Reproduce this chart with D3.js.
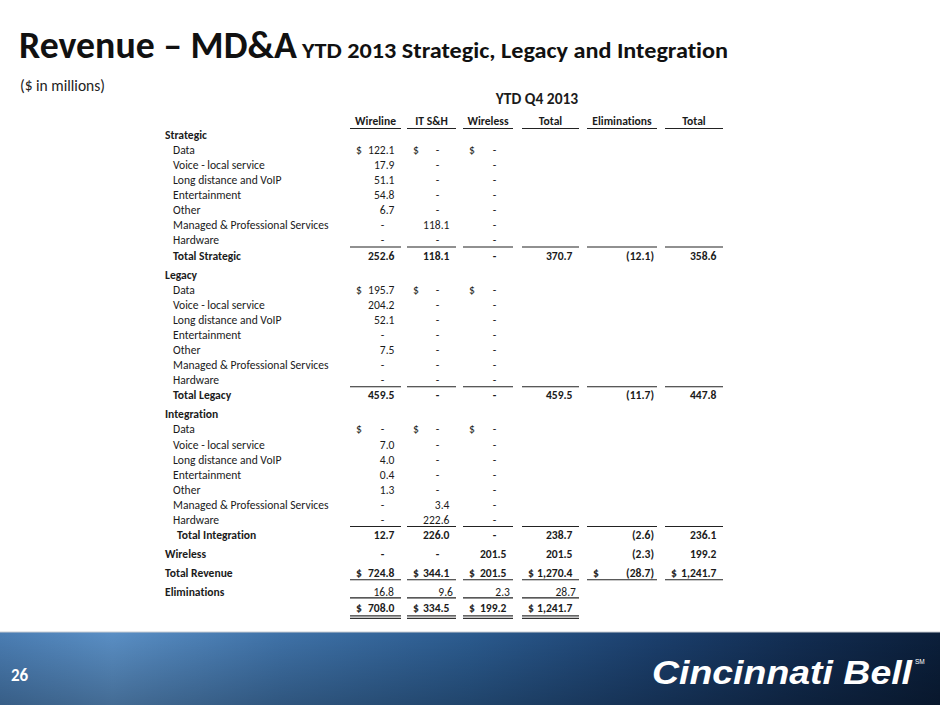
<!DOCTYPE html>
<html>
<head>
<meta charset="utf-8">
<script src="https://cdn.jsdelivr.net/npm/d3@7"></script>
<style>
  body { margin: 0; background: #fff; }
  svg { display: block; }
  text { font-variant-ligatures: none; font-feature-settings: "liga" 0; }
</style>
</head>
<body>
<svg id="chart"></svg>
<script>
// column headers and row labels
const columns = ["Wireline", "IT S&H", "Wireless", "Total", "Eliminations", "Total"];
const itemLabels = ["Data", "Voice - local service", "Long distance and VoIP", "Entertainment",
  "Other", "Managed & Professional Services", "Hardware"];

// line items: Wireline / IT S&H / Wireless
const strategicWireline = [122.1, 17.9, 51.1, 54.8, 6.7, 0, 0];
const strategicITSH = [0, 0, 0, 0, 0, 118.1, 0];
const strategicWireless = [0, 0, 0, 0, 0, 0, 0];
const legacyWireline = [195.7, 204.2, 52.1, 0, 7.5, 0, 0];
const legacyITSH = [0, 0, 0, 0, 0, 0, 0];
const legacyWireless = [0, 0, 0, 0, 0, 0, 0];
const integrationWireline = [0, 7.0, 4.0, 0.4, 1.3, 0, 0];
const integrationITSH = [0, 0, 0, 0, 0, 3.4, 222.6];
const integrationWireless = [0, 0, 0, 0, 0, 0, 0];

// total rows, one value per column
const strategicTotals = [252.6, 118.1, 0, 370.7, -12.1, 358.6];
const legacyTotals = [459.5, 0, 0, 459.5, -11.7, 447.8];
const integrationTotals = [12.7, 226.0, 0, 238.7, -2.6, 236.1];
const wirelessTotals = [0, 0, 201.5, 201.5, -2.3, 199.2];
const totalRevenue = [724.8, 344.1, 201.5, 1270.4, -28.7, 1241.7];
const eliminations = [16.8, 9.6, 2.3, 28.7];
const netRevenue = [708.0, 334.5, 199.2, 1241.7];

const W = 940, H = 705;
const font = "Carlito, Calibri, Lato, sans-serif";
const ink = "#1b1b1b";
const fs = 11.6;

const svg = d3.select("#chart").attr("width", W).attr("height", H);

// ---- rows: a slot scale, section breaks take a little more room
const rows = [];
let slot = 0;
function addRow(r, gap) { slot += gap; r.slot = slot; rows.push(r); }

const sections = [
  { name: "Strategic", w: strategicWireline, it: strategicITSH, wl: strategicWireless, tot: strategicTotals, totLabel: "Total Strategic", indent: 8 },
  { name: "Legacy", w: legacyWireline, it: legacyITSH, wl: legacyWireless, tot: legacyTotals, totLabel: "Total Legacy", indent: 8 },
  { name: "Integration", w: integrationWireline, it: integrationITSH, wl: integrationWireless, tot: integrationTotals, totLabel: "Total Integration", indent: 12 }
];
sections.forEach((s, si) => {
  addRow({ label: s.name, bold: true, indent: 0, values: [] }, si === 0 ? 0 : 1.27);
  itemLabels.forEach((lab, i) => {
    addRow({ label: lab, bold: false, indent: 8, values: [s.w[i], s.it[i], s.wl[i]], dollar: i === 0 }, 1);
  });
  addRow({ label: s.totLabel, bold: true, indent: s.indent, values: s.tot, lineAbove: true }, 1);
});
addRow({ label: "Wireless", bold: true, indent: 0, values: wirelessTotals }, 1.27);
addRow({ label: "Total Revenue", bold: true, indent: 0, values: totalRevenue, dollar: true, lineBelow: 6.5 }, 1.27);
addRow({ label: "Eliminations", bold: true, valueBold: false, indent: 0, values: eliminations, lineBelow: 5.5, elim: true }, 1.27);
addRow({ label: "", bold: true, indent: 0, values: netRevenue, dollar: true, doubleBelow: true }, 1.06);

const y = d3.scaleLinear().domain([0, 1]).range([135, 150.07]);

// column extents (left edge, right edge of the underline)
const colLeft = [350, 407, 463, 522, 587, 665];
const colRight = [401, 456, 513, 579, 657, 723];
const labelX = 165;

// ---- title
svg.append("text").attr("x", 19).attr("y", 58)
  .attr("font-family", font).attr("font-weight", "bold").attr("font-size", 38)
  .attr("fill", "#111").attr("textLength", 278).attr("lengthAdjust", "spacingAndGlyphs")
  .text("Revenue – MD&A");
svg.append("text").attr("x", 302).attr("y", 58)
  .attr("font-family", font).attr("font-weight", "bold").attr("font-size", 22)
  .attr("fill", "#111").attr("textLength", 426).attr("lengthAdjust", "spacingAndGlyphs")
  .text("YTD 2013 Strategic, Legacy and Integration");
svg.append("text").attr("x", 20).attr("y", 91)
  .attr("font-family", font).attr("font-size", 15.5).attr("fill", "#222")
  .text("($ in millions)");

// ---- table headers
svg.append("text").attr("x", 537).attr("y", 104).attr("text-anchor", "middle")
  .attr("font-family", font).attr("font-weight", "bold").attr("font-size", 15.5).attr("fill", ink)
  .text("YTD Q4 2013");

const hdr = svg.append("g");
columns.forEach((c, i) => {
  hdr.append("text").attr("x", (colLeft[i] + colRight[i]) / 2).attr("y", 125)
    .attr("text-anchor", "middle").attr("font-family", font).attr("font-weight", "bold")
    .attr("font-size", fs).attr("fill", ink).text(c);
  hdr.append("line").attr("x1", colLeft[i]).attr("x2", colRight[i])
    .attr("y1", 128.5).attr("y2", 128.5).attr("stroke", "#222").attr("stroke-width", 1.2);
});

// ---- rows
const fmt = d3.format(",.1f");
const body = svg.append("g");

rows.forEach(r => {
  const cy = y(r.slot);
  const base = cy + 4;
  body.append("text").attr("x", labelX + r.indent).attr("y", base)
    .attr("font-family", font).attr("font-size", fs)
    .attr("font-weight", r.bold ? "bold" : "normal").attr("fill", ink).text(r.label);

  const vb = r.valueBold === undefined ? r.bold : r.valueBold;
  r.values.forEach((v, i) => {
    const pad = r.elim ? (i === 0 ? 7 : 3) : (v < 0 ? 3 : 6.5);
    const rx = colRight[i] - pad;
    const t = body.append("text").attr("y", base).attr("font-family", font)
      .attr("font-size", fs).attr("font-weight", vb ? "bold" : "normal").attr("fill", ink);
    if (v === 0) {
      t.attr("x", rx - 12).attr("text-anchor", "middle").text("-");
    } else {
      t.attr("x", rx).attr("text-anchor", "end").text(v < 0 ? "(" + fmt(-v) + ")" : fmt(v));
    }
    if (r.dollar) {
      body.append("text").attr("x", colLeft[i] + 6).attr("y", base)
        .attr("font-family", font).attr("font-size", fs)
        .attr("font-weight", vb ? "bold" : "normal").attr("fill", ink).text("$");
    }
    if (r.lineAbove) {
      body.append("line").attr("x1", colLeft[i]).attr("x2", colRight[i])
        .attr("y1", cy - 8.5).attr("y2", cy - 8.5).attr("stroke", "#222").attr("stroke-width", 1.1);
    }
    if (r.lineBelow) {
      body.append("line").attr("x1", colLeft[i]).attr("x2", colRight[i])
        .attr("y1", cy + r.lineBelow).attr("y2", cy + r.lineBelow)
        .attr("stroke", "#222").attr("stroke-width", 1.1);
    }
    if (r.doubleBelow) {
      [cy + 7.5, cy + 10].forEach(ly => {
        body.append("line").attr("x1", colLeft[i]).attr("x2", colRight[i])
          .attr("y1", ly).attr("y2", ly).attr("stroke", "#333").attr("stroke-width", 1.3);
      });
    }
  });
});

// ---- footer band
const defs = svg.append("defs");
const grad = defs.append("linearGradient").attr("id", "footGrad")
  .attr("x1", "0%").attr("x2", "100%").attr("y1", "0%").attr("y2", "0%");
[["0", "#4a7db3"], ["0.12", "#5a8fc5"], ["0.3", "#3f72a8"], ["0.5", "#2b5b8f"],
 ["0.7", "#1b3f6d"], ["0.85", "#122d52"], ["1", "#0b1f3b"]].forEach(s => {
  grad.append("stop").attr("offset", s[0]).attr("stop-color", s[1]);
});
const vgrad = defs.append("linearGradient").attr("id", "footShade")
  .attr("x1", "0%").attr("x2", "0%").attr("y1", "0%").attr("y2", "100%");
vgrad.append("stop").attr("offset", "0").attr("stop-color", "#000").attr("stop-opacity", 0);
vgrad.append("stop").attr("offset", "1").attr("stop-color", "#000").attr("stop-opacity", 0.25);

svg.append("rect").attr("x", 0).attr("y", 632).attr("width", W).attr("height", H - 632)
  .attr("fill", "url(#footGrad)");
svg.append("rect").attr("x", 0).attr("y", 632).attr("width", W).attr("height", H - 632)
  .attr("fill", "url(#footShade)");
svg.append("line").attr("x1", 0).attr("x2", W).attr("y1", 632).attr("y2", 632)
  .attr("stroke", "#c8ccd2").attr("stroke-width", 1);

svg.append("text").attr("x", 11).attr("y", 681)
  .attr("font-family", font).attr("font-weight", "bold").attr("font-size", 17)
  .attr("fill", "#fff").text("26");
svg.append("text").attr("x", 652).attr("y", 684)
  .attr("font-family", "'Liberation Sans', Arial, sans-serif").attr("font-weight", "bold")
  .attr("font-style", "italic").attr("font-size", 34).attr("fill", "#fff")
  .attr("textLength", 260).attr("lengthAdjust", "spacingAndGlyphs")
  .text("Cincinnati Bell");
svg.append("text").attr("x", 915).attr("y", 664)
  .attr("font-family", "'Liberation Sans', Arial, sans-serif").attr("font-size", 6.5)
  .attr("fill", "#fff").text("SM");
</script>
</body>
</html>
